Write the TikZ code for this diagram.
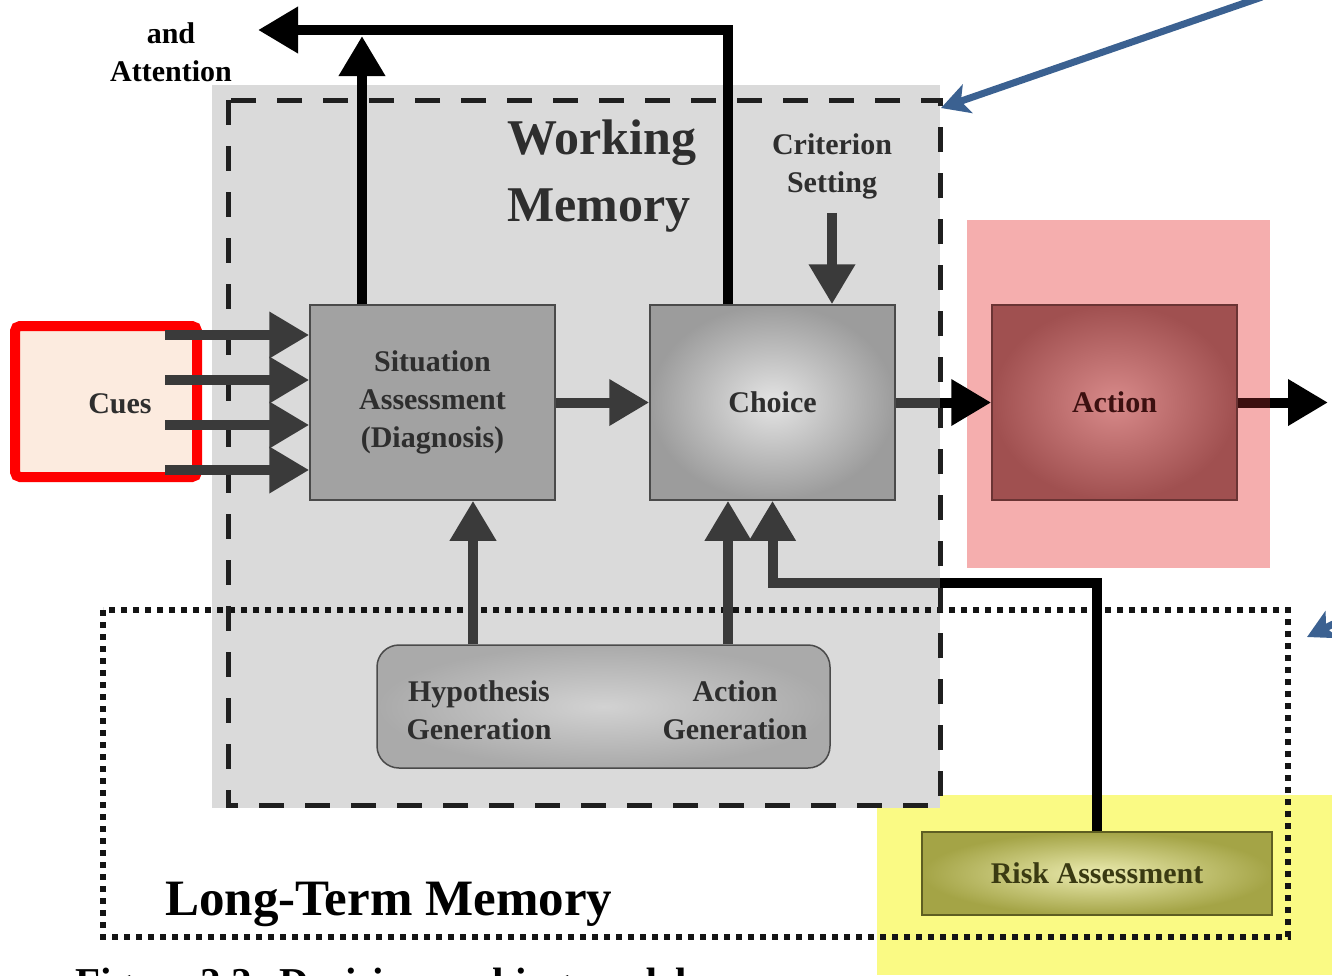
\documentclass[tikz,border=0pt]{standalone}
\usepackage{fontspec}
\setmainfont{Liberation Serif}
\usetikzlibrary{arrows.meta,calc}
\definecolor{wmgray}{HTML}{DADADA}
\definecolor{redhl}{HTML}{F5AEAE}
\definecolor{yelhl}{HTML}{FAFA84}
\definecolor{cuesfill}{HTML}{FCEBDF}
\definecolor{txt}{HTML}{2E2E2E}
\definecolor{boxline}{HTML}{4A4A4A}
\definecolor{dg}{HTML}{3A3A3A}
\definecolor{sagray}{HTML}{A2A2A2}
\definecolor{chin}{HTML}{E4E4E4}
\definecolor{chout}{HTML}{9C9C9C}
\definecolor{acin}{HTML}{D88A8A}
\definecolor{acout}{HTML}{A05050}
\definecolor{acline}{HTML}{6A3434}
\definecolor{actxt}{HTML}{3C1010}
\definecolor{genin}{HTML}{D2D2D2}
\definecolor{genout}{HTML}{AAAAAA}
\definecolor{rkin}{HTML}{EBEBB0}
\definecolor{rkout}{HTML}{A4A446}
\definecolor{rkline}{HTML}{5E5E22}
\definecolor{rktxt}{HTML}{3A3A12}
\definecolor{bluearrow}{HTML}{3B6191}
\begin{document}
\begin{tikzpicture}[x=1pt,y=-1pt,
  lbl/.style={font=\bfseries\fontsize{30}{38}\selectfont, text=txt, align=center, inner sep=0pt},
  box/.style={draw=boxline, line width=1.5pt, minimum width=245pt, minimum height=195pt, lbl},
  fat/.style={line width=10pt, line join=miter, -{Triangle[width=44pt,length=40pt]}},
  shaft/.style={line width=10pt, line join=miter},
  bluearr/.style={draw=bluearrow, line width=7pt, -{Stealth[width=30pt,length=28pt,inset=7pt]}}
]
\useasboundingbox (0,0) rectangle (1332,975);

% highlight regions
\fill[redhl] (967,220) rectangle (1270,568);
\fill[yelhl] (877,795) rectangle (1332,975);

% working memory background
\node[fill=wmgray, minimum width=728pt, minimum height=723pt, inner sep=0pt, outer sep=0pt] (wm) at (576,446.5) {};

% long-term memory (dotted) and working memory (dashed) borders
\draw[line width=6pt, dash pattern=on 6pt off 6pt, draw=black!92] (103,610) rectangle (1288,937);
\draw[line width=5pt, dash pattern=on 25pt off 21pt, draw=black!88] (228,100) rectangle (940,805);

% titles
\node[lbl, font=\bfseries\fontsize{50}{67}\selectfont, align=left, anchor=west] (wmt) at (507,176) {Working\\Memory};
\node[lbl] (crit) at (832,166) {Criterion\\Setting};
\node[lbl, text=black] (attn) at (171,52) {and\\Attention};
\node[lbl, font=\bfseries\fontsize{51}{60}\selectfont, text=black, anchor=base west] (ltm) at (165,915) {Long-Term Memory};
\node[anchor=base west, inner sep=0pt, font=\bfseries\fontsize{41}{48}\selectfont] (cap) at (75,996) {Figure 2.2: Decision making model};

% cues
\node[draw=red, line width=10pt, rounded corners=5pt, fill=cuesfill, minimum width=182pt, minimum height=151pt] (cues) at (106,401.5) {};
\node[lbl] (cuestxt) at (120,404) {Cues};

% main boxes
\node[box, fill=sagray] (sa) at (432.5,402.5) {Situation\\Assessment\\(Diagnosis)};
\node[box, shade, shading=radial, inner color=chin, outer color=chout] (choice) at (772.5,402.5) {Choice};
\node[box, shade, shading=radial, inner color=acin, outer color=acout, draw=acline, text=actxt] (action) at (1114.5,402.5) {Action};
\node[draw=boxline, line width=1.5pt, rounded corners=22pt, shade, shading=radial, inner color=genin, outer color=genout, minimum width=453pt, minimum height=123pt] (gen) at (603.5,706.5) {};
\node[lbl] (hyp) at (479,710) {Hypothesis\\Generation};
\node[lbl] (actg) at (735,710) {Action\\Generation};
\node[box, minimum width=350pt, minimum height=83pt, shade, shading=radial, inner color=rkin, outer color=rkout, draw=rkline, text=rktxt] (risk) at (1097,873.5) {Risk Assessment};

% cue arrows
\path (cues.east) ++(-37,0) coordinate (cuesin);
\foreach \dy [count=\i] in {-67.5,-22.5,22.5,67.5}{
  \coordinate (ce\i) at ($(sa.west)+(0,\dy)$);
  \draw[fat, draw=dg] (cuesin |- ce\i) -- (ce\i);
}

% top arrows
\coordinate (attnTip) at (258,30);
\coordinate (saUp) at ($(sa.north)+(-70.5,0)$);
\coordinate (saUpTip) at (362,36);
\draw[fat, draw=black] ($(choice.north)+(-44.5,0)$) |- (attnTip);
\draw[fat, draw=black] (saUp) -- (saUpTip);

% criterion setting
\draw[fat, draw=dg] ($(crit.south)+(0,14)$) -- (crit.south |- choice.north);

% horizontal flow
\draw[fat, draw=dg] (sa.east) -- (choice.west);
\draw[shaft, draw=dg] (choice.east) -- (choice.east -| wm.east);
\draw[fat, draw=black] (choice.east -| wm.east) -- (action.west);
\coordinate (out) at (1328,402.5);
\draw[fat, draw=black] (action.east) -- (out);
\draw[shaft, draw=actxt] (action.east) -- (action.east -| 1270,0);

% generation arrows
\draw[fat, draw=dg] ($(gen.north)+(-130.5,0)$) -- ($(sa.south)+(40.5,0)$);
\draw[fat, draw=dg] ($(gen.north)+(124.5,0)$) -- ($(choice.south)+(-44.5,0)$);

% risk assessment feedback
\coordinate (rk) at ($(choice.south)+(0,82)$);
\draw[shaft, draw=black] (risk.north) |- (rk -| wm.east);
\draw[fat, draw=dg] (rk -| wm.east) -| (choice.south);

% blue annotation arrows
\coordinate (b1s) at (1262,-3);
\coordinate (b1e) at (941,108);
\draw[bluearr] (b1s) -- (b1e);
\coordinate (b2s) at (1400,591);
\coordinate (b2e) at (1307,637);
\draw[bluearr] (b2s) -- (b2e);
\end{tikzpicture}
\end{document}
